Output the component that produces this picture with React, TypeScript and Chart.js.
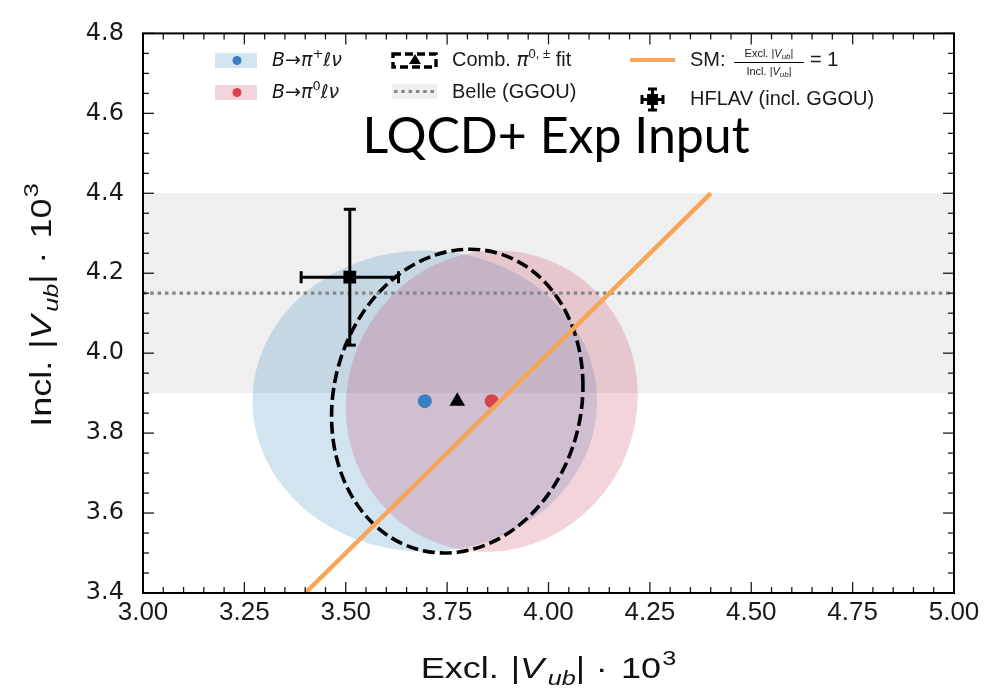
import React, { useEffect, useRef } from 'react';
import { Chart, registerables } from 'chart.js';

Chart.register(...registerables);

// Axis ticks
const X_TICKS = [3.0, 3.25, 3.5, 3.75, 4.0, 4.25, 4.5, 4.75, 5.0];
const Y_TICKS = [3.4, 3.6, 3.8, 4.0, 4.2, 4.4, 4.6, 4.8];
const MINOR_STEP = 0.05;

// Exclusive fits: B→π+ℓν, B→π0ℓν, combined π0,± fit (central values and 1σ contours)
const FIT_NAMES = ['B→π⁺ℓν', 'B→π⁰ℓν', 'Comb. π⁰,± fit'];
const FIT_EXCL = [3.695, 3.86, 3.775];
const FIT_INCL = [3.88, 3.88, 3.88];
const FIT_SIGMA_EXCL = [0.425, 0.36, 0.31];
const FIT_SIGMA_INCL = [0.377, 0.377, 0.38];
const FIT_RHO = [0.0, 0.04, 0.1];

// Belle inclusive (GGOU) value and band
const BELLE_GGOU = [4.15];
const BELLE_GGOU_BAND = [3.9, 4.4];

// HFLAV average (incl. GGOU)
const HFLAV_EXCL = [3.51];
const HFLAV_EXCL_ERR = [0.12];
const HFLAV_INCL = [4.19];
const HFLAV_INCL_ERR = [0.17];

// Standard Model expectation Excl./Incl. = 1
const SM_LINE = [3.4, 4.4];

const SANS = '"Liberation Sans", Arial, sans-serif';
const DJ = '"DejaVu Sans", sans-serif';

const BLUE = '#3a7fc2';
const RED = '#d8434f';
const BLUE_FILL = 'rgba(31,119,180,0.2)';
const PINK_FILL = 'rgba(200,60,90,0.22)';
const ORANGE = '#f7a558';
const BAND = '#efefef';
const DOT_GRAY = '#878787';

type Run = { t: string; size: number; italic?: boolean; dy?: number; family?: string; pad?: number };

function setFont(ctx: CanvasRenderingContext2D, r: Run) {
  ctx.font = `${r.italic ? 'italic ' : ''}${r.size}px ${r.family ?? SANS}`;
}
function runsWidth(ctx: CanvasRenderingContext2D, runs: Run[]) {
  let w = 0;
  for (const r of runs) {
    setFont(ctx, r);
    w += ctx.measureText(r.t).width + (r.pad ?? 0);
  }
  return w;
}
function drawRuns(ctx: CanvasRenderingContext2D, runs: Run[], x: number, y: number, align: 'left' | 'center' = 'left') {
  let cx = align === 'center' ? x - runsWidth(ctx, runs) / 2 : x;
  ctx.textAlign = 'left';
  ctx.textBaseline = 'alphabetic';
  for (const r of runs) {
    setFont(ctx, r);
    ctx.fillText(r.t, cx, y + (r.dy ?? 0));
    cx += ctx.measureText(r.t).width + (r.pad ?? 0);
  }
}

const axisTitle = (word: string): Run[] => [
  { t: word, size: 30, pad: 10 },
  { t: '|', size: 30 },
  { t: 'V', size: 30, italic: true, pad: 3 },
  { t: 'ub', size: 21, italic: true, dy: 7 },
  { t: '|', size: 30, pad: 9 },
  { t: '·', size: 30, pad: 11 },
  { t: '10', size: 30, pad: 1 },
  { t: '3', size: 21, dy: -13 },
];

const smallVub = (word: string): Run[] => [
  { t: word + ' |', size: 11 },
  { t: 'V', size: 11, italic: true },
  { t: 'ub', size: 8, italic: true, dy: 2 },
  { t: '|', size: 11 },
];

// 1σ contour as an affine image of the unit circle, placed through the chart scales
function ellipsePath(ctx: CanvasRenderingContext2D, xs: any, ys: any, i: number) {
  const cx = xs.getPixelForValue(FIT_EXCL[i]);
  const cy = ys.getPixelForValue(FIT_INCL[i]);
  const ax = xs.getPixelForValue(FIT_EXCL[i] + FIT_SIGMA_EXCL[i]) - cx;
  const by = ys.getPixelForValue(FIT_INCL[i] + FIT_SIGMA_INCL[i]) - cy;
  const r = FIT_RHO[i];
  ctx.save();
  ctx.beginPath();
  ctx.transform(ax, by * r, 0, by * Math.sqrt(1 - r * r), cx, cy);
  ctx.arc(0, 0, 1, 0, Math.PI * 2);
  ctx.closePath();
  ctx.restore();
}

function line(ctx: CanvasRenderingContext2D, x0: number, y0: number, x1: number, y1: number) {
  ctx.beginPath();
  ctx.moveTo(x0, y0);
  ctx.lineTo(x1, y1);
  ctx.stroke();
}

const decor = {
  id: 'decor',
  beforeDatasetsDraw(chart: any) {
    const { ctx, chartArea: a } = chart;
    const xs = chart.scales.x;
    const ys = chart.scales.y;
    ctx.save();
    ctx.beginPath();
    ctx.rect(a.left, a.top, a.right - a.left, a.bottom - a.top);
    ctx.clip();
    const yt = ys.getPixelForValue(BELLE_GGOU_BAND[1]);
    const yb = ys.getPixelForValue(BELLE_GGOU_BAND[0]);
    ctx.fillStyle = BAND;
    ctx.fillRect(a.left, yt, a.right - a.left, yb - yt);

    ellipsePath(ctx, xs, ys, 0);
    ctx.fillStyle = BLUE_FILL;
    ctx.fill();
    ellipsePath(ctx, xs, ys, 1);
    ctx.fillStyle = PINK_FILL;
    ctx.fill();

    ellipsePath(ctx, xs, ys, 2);
    ctx.setLineDash([12, 5]);
    ctx.lineWidth = 3.6;
    ctx.strokeStyle = '#000';
    ctx.stroke();
    ctx.restore();
  },
  afterDatasetsDraw(chart: any) {
    const { ctx } = chart;
    const xs = chart.scales.x;
    const ys = chart.scales.y;
    ctx.save();
    ctx.strokeStyle = '#000';
    ctx.lineWidth = 3;
    const cap = 6;
    HFLAV_EXCL.forEach((ex, i) => {
      const px = xs.getPixelForValue(ex);
      const py = ys.getPixelForValue(HFLAV_INCL[i]);
      const x0 = xs.getPixelForValue(ex - HFLAV_EXCL_ERR[i]);
      const x1 = xs.getPixelForValue(ex + HFLAV_EXCL_ERR[i]);
      const y0 = ys.getPixelForValue(HFLAV_INCL[i] + HFLAV_INCL_ERR[i]);
      const y1 = ys.getPixelForValue(HFLAV_INCL[i] - HFLAV_INCL_ERR[i]);
      line(ctx, x0, py, x1, py);
      line(ctx, px, y0, px, y1);
      line(ctx, x0, py - cap, x0, py + cap);
      line(ctx, x1, py - cap, x1, py + cap);
      line(ctx, px - cap, y0, px + cap, y0);
      line(ctx, px - cap, y1, px + cap, y1);
    });
    ctx.restore();
  },
  afterDraw(chart: any) {
    const { ctx, chartArea: a } = chart;
    const xs = chart.scales.x;
    const ys = chart.scales.y;
    ctx.save();

    // inward ticks on all four sides
    ctx.strokeStyle = '#1a1a1a';
    ctx.lineWidth = 1.3;
    const isMajor = (v: number, list: number[]) => list.some((t) => Math.abs(t - v) < 1e-6);
    const nx = Math.round((xs.max - xs.min) / MINOR_STEP);
    for (let k = 0; k <= nx; k++) {
      const v = xs.min + k * MINOR_STEP;
      const len = isMajor(v, X_TICKS) ? 11 : 6;
      const p = xs.getPixelForValue(v);
      line(ctx, p, a.bottom, p, a.bottom - len);
      line(ctx, p, a.top, p, a.top + len);
    }
    const ny = Math.round((ys.max - ys.min) / MINOR_STEP);
    for (let k = 0; k <= ny; k++) {
      const v = ys.min + k * MINOR_STEP;
      const len = isMajor(v, Y_TICKS) ? 11 : 6;
      const p = ys.getPixelForValue(v);
      line(ctx, a.left, p, a.left + len, p);
      line(ctx, a.right, p, a.right - len, p);
    }

    // frame
    ctx.lineWidth = 2;
    ctx.strokeStyle = '#000';
    ctx.strokeRect(a.left, a.top, a.right - a.left, a.bottom - a.top);

    // axis titles
    ctx.fillStyle = '#111';
    ctx.save();
    ctx.translate(a.left + (a.right - a.left) / 2, 678);
    ctx.scale(1.2, 1);
    drawRuns(ctx, axisTitle('Excl.'), 0, 0, 'center');
    ctx.restore();

    ctx.save();
    ctx.translate(51, 305);
    ctx.rotate(-Math.PI / 2);
    ctx.scale(1.2, 1);
    drawRuns(ctx, axisTitle('Incl.'), 0, 0, 'center');
    ctx.restore();

    // heading
    ctx.fillStyle = '#000';
    ctx.font = '50px Lato, "Open Sans", sans-serif';
    ctx.textAlign = 'center';
    ctx.textBaseline = 'alphabetic';
    ctx.fillText('LQCD+ Exp Input', 556, 153);

    // legend, column 1
    ctx.fillStyle = BLUE_FILL;
    ctx.fillRect(215, 53, 42, 15);
    ctx.fillStyle = PINK_FILL;
    ctx.fillRect(215, 85, 42, 15);
    ctx.fillStyle = BLUE;
    ctx.beginPath();
    ctx.arc(237, 60.5, 4.5, 0, Math.PI * 2);
    ctx.fill();
    ctx.fillStyle = RED;
    ctx.beginPath();
    ctx.arc(237, 92.5, 4.5, 0, Math.PI * 2);
    ctx.fill();
    ctx.fillStyle = '#1a1a1a';
    const bRuns = (q: string): Run[] => [
      { t: 'B', size: 19, italic: true, family: DJ },
      { t: '→', size: 19, family: DJ },
      { t: 'π', size: 19, italic: true, family: DJ },
      { t: q, size: 13, dy: -8, family: DJ },
      { t: 'ℓν', size: 19, italic: true, family: DJ },
    ];
    drawRuns(ctx, bRuns('+'), 272, 66);
    drawRuns(ctx, bRuns('0'), 272, 98);

    // legend, column 2
    ctx.save();
    ctx.strokeStyle = '#000';
    ctx.lineWidth = 3.4;
    ctx.setLineDash([8, 4]);
    ctx.strokeRect(393, 54, 43, 13);
    ctx.setLineDash([]);
    ctx.fillStyle = '#000';
    ctx.beginPath();
    ctx.moveTo(415, 54);
    ctx.lineTo(421, 64);
    ctx.lineTo(409, 64);
    ctx.closePath();
    ctx.fill();
    ctx.fillStyle = BAND;
    ctx.fillRect(392, 84, 45, 15);
    ctx.strokeStyle = DOT_GRAY;
    ctx.lineWidth = 3.2;
    ctx.setLineDash([3.5, 3.8]);
    line(ctx, 394, 91.5, 436, 91.5);
    ctx.restore();
    ctx.fillStyle = '#1a1a1a';
    drawRuns(ctx, [
      { t: 'Comb. ', size: 20 },
      { t: 'π', size: 20, italic: true, family: DJ },
      { t: '0, ±', size: 13, dy: -8 },
      { t: ' fit', size: 20 },
    ], 452, 66);
    drawRuns(ctx, [{ t: 'Belle (GGOU)', size: 20 }], 452, 98);

    // legend, column 3
    ctx.save();
    ctx.strokeStyle = ORANGE;
    ctx.lineWidth = 4;
    line(ctx, 630, 60, 675, 60);
    ctx.strokeStyle = '#000';
    ctx.lineWidth = 3;
    ctx.fillStyle = '#000';
    ctx.fillRect(647, 94, 11, 11);
    line(ctx, 642, 99.5, 663, 99.5);
    line(ctx, 652.5, 89, 652.5, 110);
    line(ctx, 642, 95, 642, 104);
    line(ctx, 663, 95, 663, 104);
    line(ctx, 648, 89, 657, 89);
    line(ctx, 648, 110, 657, 110);
    ctx.lineWidth = 1;
    line(ctx, 734, 62.5, 804, 62.5);
    ctx.restore();
    ctx.fillStyle = '#1a1a1a';
    drawRuns(ctx, [{ t: 'SM:', size: 20 }], 690, 66);
    drawRuns(ctx, smallVub('Excl.'), 769, 57, 'center');
    drawRuns(ctx, smallVub('Incl.'), 769, 75, 'center');
    drawRuns(ctx, [{ t: '= 1', size: 20 }], 810, 66);
    drawRuns(ctx, [{ t: 'HFLAV (incl. GGOU)', size: 20 }], 690, 105);

    ctx.restore();
  },
};

export default function App() {
  const ref = useRef<HTMLCanvasElement | null>(null);

  useEffect(() => {
    const canvas = ref.current;
    if (!canvas) return;
    const pts = (xsArr: number[], ysArr: number[]) => xsArr.map((v, i) => ({ x: v, y: ysArr[i] }));
    const chart = new Chart(canvas, {
      type: 'scatter',
      data: {
        datasets: [
          {
            label: 'SM',
            data: pts(SM_LINE, SM_LINE),
            showLine: true,
            borderColor: ORANGE,
            borderWidth: 4.5,
            pointRadius: 0,
          },
          {
            label: 'HFLAV (incl. GGOU)',
            data: pts(HFLAV_EXCL, HFLAV_INCL),
            pointStyle: 'rect',
            pointRadius: 9,
            backgroundColor: '#000',
            borderColor: '#000',
            borderWidth: 0,
          },
          {
            label: FIT_NAMES[0],
            data: pts([FIT_EXCL[0]], [FIT_INCL[0]]),
            pointRadius: 7,
            backgroundColor: BLUE,
            borderWidth: 0,
          },
          {
            label: FIT_NAMES[1],
            data: pts([FIT_EXCL[1]], [FIT_INCL[1]]),
            pointRadius: 7,
            backgroundColor: RED,
            borderWidth: 0,
          },
          {
            label: FIT_NAMES[2],
            data: pts([FIT_EXCL[2]], [FIT_INCL[2]]),
            pointStyle: 'triangle',
            pointRadius: 9,
            backgroundColor: '#000',
            borderWidth: 0,
          },
          {
            label: 'Belle (GGOU)',
            data: [{ x: 3.0, y: BELLE_GGOU[0] }, { x: 5.0, y: BELLE_GGOU[0] }],
            showLine: true,
            borderColor: DOT_GRAY,
            borderWidth: 3.2,
            borderDash: [3.5, 3.8],
            pointRadius: 0,
          },
        ],
      },
      options: {
        animation: false,
        responsive: false,
        devicePixelRatio: 1,
        layout: { padding: { left: 0, right: 52, top: 23, bottom: 0 } },
        plugins: { legend: { display: false }, tooltip: { enabled: false } },
        scales: {
          x: {
            type: 'linear',
            min: 3.0,
            max: 5.0,
            afterBuildTicks: (s: any) => {
              s.ticks = X_TICKS.map((v) => ({ value: v }));
            },
            afterFit: (s: any) => {
              s.height = 98;
            },
            grid: { display: false, drawTicks: false },
            border: { display: false },
            ticks: {
              autoSkip: false,
              maxRotation: 0,
              padding: 4,
              color: '#1a1a1a',
              font: { family: SANS, size: 26 },
              callback: (v: any) => Number(v).toFixed(2),
            },
          },
          y: {
            type: 'linear',
            min: 3.4,
            max: 4.8,
            afterBuildTicks: (s: any) => {
              s.ticks = Y_TICKS.map((v) => ({ value: v }));
            },
            afterFit: (s: any) => {
              s.width = 143;
            },
            grid: { display: false, drawTicks: false },
            border: { display: false },
            ticks: {
              autoSkip: false,
              padding: 19,
              color: '#1a1a1a',
              font: { family: DJ, size: 24 },
              callback: (v: any) => Number(v).toFixed(1),
            },
          },
        },
      },
      plugins: [decor],
    } as any);
    return () => chart.destroy();
  }, []);

  return (
    <div style={{ position: 'fixed', left: 0, top: 0, width: 1006, height: 691, background: '#fff' }}>
      <canvas ref={ref} width={1006} height={691} style={{ display: 'block', width: 1006, height: 691 }} />
    </div>
  );
}
